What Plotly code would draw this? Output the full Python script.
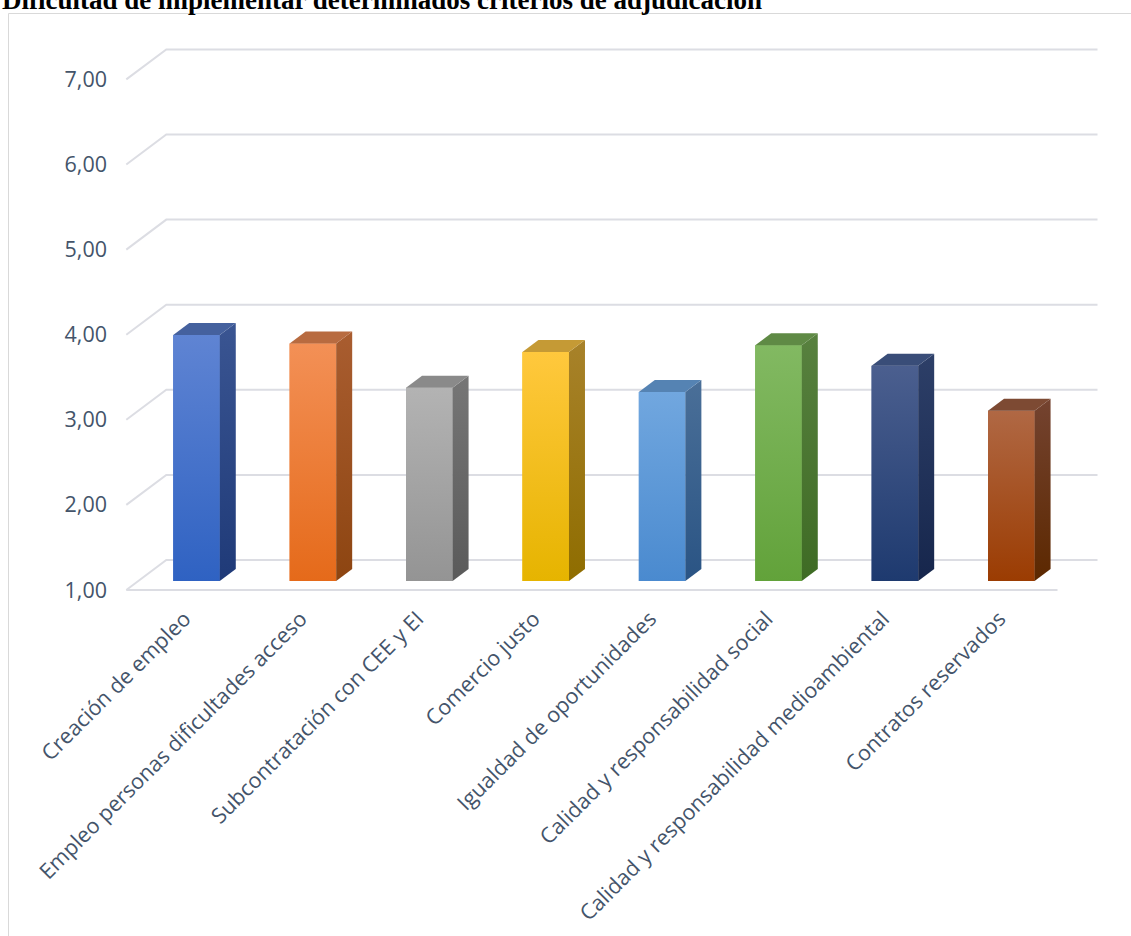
import plotly.graph_objects as go

# ---------------- data ----------------
categories = [
    "Creación de empleo",
    "Empleo personas dificultades acceso",
    "Subcontratación con CEE y EI",
    "Comercio justo",
    "Igualdad de oportunidades",
    "Calidad y responsabilidad social",
    "Calidad y responsabilidad medioambiental",
    "Contratos reservados",
]
values = [3.89, 3.79, 3.27, 3.69, 3.22, 3.77, 3.53, 3.00]
grid_values = [1, 2, 3, 4, 5, 6, 7]
title_text = "Dificultad de implementar determinados criterios de adjudicación"

# ---------------- styles ----------------
front_bottom = ["#2f62c2", "#e56a1a", "#949494", "#e6b400", "#4a8acf", "#62a23a", "#1e3a6f", "#9b3c02"]
front_top = ["#5f84d3", "#f39056", "#b3b3b3", "#ffc83d", "#71a7df", "#82b962", "#4b5f8f", "#b06844"]
front_mid = ["#4773cb", "#ec7d38", "#a3a3a3", "#f3be1e", "#5e98d7", "#72ad4e", "#344c7f", "#a65223"]
side_bottom = ["#1f3a78", "#8d4511", "#5a5a5a", "#8f6d00", "#2a5484", "#3e6b24", "#16264c", "#5c2800"]
side_top = ["#3a5592", "#a95d30", "#767676", "#a8822a", "#4a6f98", "#58813f", "#2d3f68", "#744330"]
top_col = ["#45619e", "#b86b40", "#8a8a8a", "#c59a35", "#5583b3", "#5f8a45", "#394d78", "#7d4a33"]

W, H = 1131, 936
BASE = 1.0
# pixel geometry of the projection
X0_PX, CAT_PX = 196.5, 116.4       # pixel x of first category centre, px per category
Y1_PX, UNIT_PX = 581.0, 85.1       # pixel y of value 1 in bar plane, px per unit
FRONT_PX = (-12.0, 9.0)            # label plane offset from bar plane
BACK_PX = (28.0, -21.0)            # back wall offset from bar plane
BAR_DEPTH_PX = (16.0, -12.0)
BAR_W = 0.4

def dx(px):
    return px / CAT_PX

def dy(py):
    return -py / UNIT_PX

x_range = [(0 - X0_PX) / CAT_PX, (W - X0_PX) / CAT_PX]
y_range = [BASE + (Y1_PX - H) / UNIT_PX, BASE + Y1_PX / UNIT_PX]
lab_shift = -dy(FRONT_PX[1])  # label-plane value minus bar-plane value

fdx, fdy = dx(FRONT_PX[0]), dy(FRONT_PX[1])
bdx, bdy = dx(BACK_PX[0]), dy(BACK_PX[1])
ddx, ddy = dx(BAR_DEPTH_PX[0]), dy(BAR_DEPTH_PX[1])
n = len(categories)
left_edge, right_edge = -0.5, n - 0.5

fig = go.Figure()

# gridlines (walls) as shapes below traces
grid_col = "#dcdde3"
shapes = []
for v in grid_values:
    path = (f"M {left_edge + fdx},{v + fdy} "
            f"L {left_edge + bdx},{v + bdy} L {right_edge + bdx},{v + bdy}")
    shapes.append(dict(type="path", xref="x", yref="y", path=path, layer="below",
                       line=dict(color=grid_col, width=2)))
# floor front edge
v0 = grid_values[0]
shapes.append(dict(type="line", xref="x", yref="y", layer="below",
                   x0=left_edge + fdx, y0=v0 + fdy, x1=right_edge + fdx, y1=v0 + fdy,
                   line=dict(color=grid_col, width=2)))
# outer frame
shapes.append(dict(type="rect", xref="paper", yref="paper", layer="below",
                   x0=8.5 / W, y0=-0.05, x1=1.05, y1=1 - 13.5 / H,
                   line=dict(color="#d9d9d9", width=1)))

# front faces (bars)
xs = list(range(n))
fig.add_trace(go.Bar(x=xs, y=[v - BASE for v in values], base=[BASE] * n, width=BAR_W,
                     marker=dict(color=front_mid, line=dict(width=0)),
                     hoverinfo="skip", showlegend=False))

for i, v in enumerate(values):
    xl, xr = i - BAR_W / 2, i + BAR_W / 2
    # gradient front face
    fig.add_trace(go.Scatter(
        x=[xl, xr, xr, xl, xl], y=[BASE, BASE, v, v, BASE], mode="lines",
        line=dict(width=0), fill="toself",
        fillgradient=dict(type="vertical", colorscale=[[0, front_bottom[i]], [1, front_top[i]]]),
        hoverinfo="skip", showlegend=False))
    # side face
    fig.add_trace(go.Scatter(
        x=[xr, xr + ddx, xr + ddx, xr, xr], y=[BASE, BASE + ddy, v + ddy, v, BASE], mode="lines",
        line=dict(width=0), fill="toself",
        fillgradient=dict(type="vertical", colorscale=[[0, side_bottom[i]], [1, side_top[i]]]),
        hoverinfo="skip", showlegend=False))
    # top face
    fig.add_trace(go.Scatter(
        x=[xl, xl + ddx, xr + ddx, xr, xl], y=[v, v + ddy, v + ddy, v, v], mode="lines",
        line=dict(width=0), fill="toself", fillcolor=top_col[i],
        hoverinfo="skip", showlegend=False))

# invisible trace to carry the label y-axis
fig.add_trace(go.Scatter(x=[None], y=[None], yaxis="y2", showlegend=False, hoverinfo="skip"))

label_font = dict(family="Open Sans", size=21.5, color="#44546a")

fig.update_layout(
    width=W, height=H,
    margin=dict(l=0, r=0, t=0, b=0),
    paper_bgcolor="white", plot_bgcolor="rgba(0,0,0,0)",
    separators=",.",
    showlegend=False,
    shapes=shapes,
    xaxis=dict(range=x_range, domain=[0, 1], anchor="free", position=1 - 601 / H,
               tickmode="array", tickvals=[x + fdx for x in xs], ticktext=categories, tickangle=-45,
               showgrid=False, zeroline=False, showline=False, ticks="",
               tickfont=label_font, fixedrange=True),
    yaxis=dict(range=y_range, domain=[0, 1], visible=False, fixedrange=True),
    yaxis2=dict(range=[y_range[0] + lab_shift, y_range[1] + lab_shift], overlaying="y",
                anchor="free", position=107 / W, side="left",
                tickmode="array", tickvals=grid_values, tickformat=".2f",
                showgrid=False, zeroline=False, showline=False, ticks="",
                tickfont=dict(family="Open Sans", size=21.5, color="#44546a"), fixedrange=True),
    annotations=[dict(text="<b>" + title_text + "</b>", xref="paper", yref="paper",
                      x=0, y=1 - 17 / H, xanchor="left", yanchor="bottom", showarrow=False,
                      font=dict(family="Liberation Serif", size=27, color="black"))],
)

fig.write_html("out.html")
